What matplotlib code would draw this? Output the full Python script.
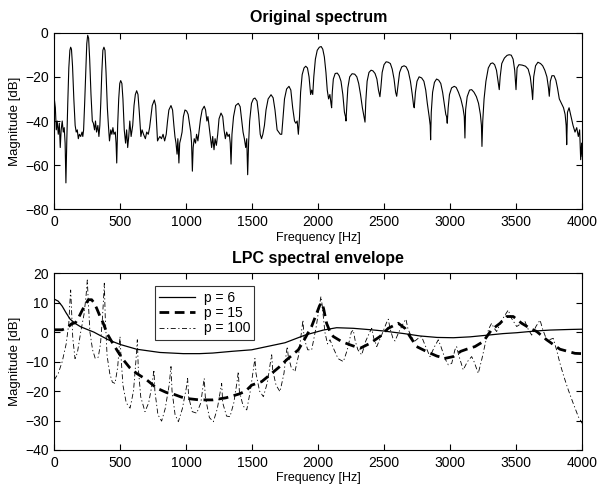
import matplotlib
matplotlib.use("Agg")
import matplotlib.pyplot as plt

plt.rcParams["font.family"] = ["Liberation Sans", "DejaVu Sans"]

# original spectrum: (frequency [Hz], magnitude [dB])
spectrum = [
    (0, -30), (8, -34), (15, -44), (22, -40), (30, -46), (38, -41), (45, -52), (52, -44),
    (60, -40), (68, -45), (75, -43), (82, -50), (88, -68), (95, -48), (102, -32),
    (110, -16), (118, -8), (124, -6.6), (130, -7.5), (138, -15), (148, -30), (158, -42),
    (166, -45), (174, -44), (182, -48), (190, -46), (200, -47), (210, -45), (216, -47),
    (222, -44), (230, -32), (238, -18), (246, -5), (253, -1.2), (260, -2.5), (268, -12),
    (278, -28), (288, -40), (296, -41), (305, -44), (312, -40), (320, -45), (330, -42),
    (338, -47), (345, -42), (352, -32), (360, -18), (368, -8), (376, -6.6), (384, -8),
    (392, -18), (402, -34), (410, -42), (418, -49), (428, -44), (436, -46), (444, -43),
    (452, -46), (462, -45), (468, -50), (473, -59), (480, -42), (488, -30), (496, -23),
    (503, -21.7), (512, -23), (520, -30), (530, -44), (540, -50), (548, -44), (556, -52),
    (564, -47), (572, -40), (582, -47), (594, -42), (604, -33), (614, -28), (624, -26.3),
    (634, -28), (644, -36), (656, -47), (665, -44), (676, -46), (690, -48), (700, -45),
    (712, -46), (722, -43), (732, -38), (742, -33), (758, -30.5), (768, -33), (776, -42),
    (782, -49), (790, -48), (800, -47), (812, -48), (824, -46), (836, -49), (848, -46),
    (858, -40), (868, -35), (884, -33), (896, -35), (906, -42), (914, -47), (922, -50),
    (930, -55), (936, -48), (944, -59), (950, -50), (958, -48), (968, -45), (978, -38),
    (990, -35), (1003, -35.5), (1014, -37), (1024, -41), (1034, -45), (1040, -50),
    (1046, -62.7), (1052, -52), (1060, -48), (1070, -50), (1078, -46), (1088, -49),
    (1098, -44), (1108, -39), (1120, -35), (1136, -33.3), (1146, -35), (1156, -40),
    (1164, -38), (1174, -43), (1184, -48), (1192, -52), (1200, -47), (1210, -53),
    (1218, -48), (1228, -51), (1238, -46), (1248, -39), (1263, -36.4), (1276, -38),
    (1286, -44), (1296, -48), (1306, -45), (1316, -47), (1326, -46), (1333, -50),
    (1339, -59.5), (1346, -46), (1358, -38), (1374, -33), (1394, -32), (1408, -33.5),
    (1420, -40), (1430, -45), (1440, -48), (1450, -52), (1458, -48), (1465, -64.3),
    (1472, -50), (1480, -40), (1494, -32), (1508, -30), (1520, -29.6), (1536, -31),
    (1548, -37), (1560, -46), (1570, -48), (1580, -46), (1592, -42), (1604, -35),
    (1620, -30), (1642, -28.1), (1658, -29.5), (1672, -35), (1688, -44), (1700, -45),
    (1712, -46), (1723, -46), (1732, -39), (1744, -30), (1760, -25.5), (1778, -24.3),
    (1792, -26), (1806, -34), (1820, -40), (1830, -41), (1840, -40), (1849, -46),
    (1858, -38), (1866, -27), (1878, -19), (1892, -16), (1905, -15.2), (1918, -16),
    (1930, -20), (1942, -28), (1950, -26), (1958, -28), (1966, -20), (1978, -12),
    (1992, -8), (2008, -6.6), (2022, -6.3), (2034, -7.5), (2046, -11), (2058, -18),
    (2068, -26), (2078, -30), (2088, -28), (2096, -32), (2101, -34), (2106, -27),
    (2114, -21), (2128, -18.5), (2144, -18.3), (2158, -19.5), (2172, -22), (2186, -28),
    (2198, -36), (2206, -38), (2210, -40), (2216, -33), (2224, -25), (2238, -20),
    (2256, -18.6), (2276, -18.8), (2292, -20), (2306, -23), (2320, -28), (2334, -34),
    (2346, -38), (2354, -40.5), (2360, -31), (2370, -22), (2384, -18), (2400, -17),
    (2414, -17.3), (2430, -18.5), (2444, -21), (2456, -26), (2467, -29), (2474, -25),
    (2484, -18), (2498, -14.5), (2514, -13.2), (2530, -13.4), (2546, -14), (2560, -16.5),
    (2574, -21), (2586, -27), (2594, -28.8), (2604, -24), (2616, -18), (2632, -15.5),
    (2650, -15), (2666, -15.5), (2682, -17.5), (2698, -22), (2712, -28), (2722, -33),
    (2727, -34), (2736, -27), (2748, -22), (2764, -20), (2783, -20.5), (2800, -22),
    (2814, -26), (2826, -32), (2840, -38), (2848, -42), (2851, -48.5), (2856, -36),
    (2866, -27), (2880, -22.5), (2896, -21), (2912, -21.5), (2928, -23), (2942, -27),
    (2954, -32), (2966, -37), (2972, -38), (2977, -41), (2984, -34), (2994, -28),
    (3010, -25), (3030, -24.3), (3045, -24.8), (3062, -27), (3080, -30), (3096, -34),
    (3106, -38), (3111, -47.7), (3116, -35), (3128, -29), (3146, -26), (3162, -25.8),
    (3180, -27), (3198, -29), (3214, -32), (3228, -37), (3236, -42), (3240, -51.5),
    (3246, -40), (3256, -30), (3270, -22), (3288, -16), (3306, -14), (3321, -13.7),
    (3336, -14.5), (3350, -17), (3362, -22), (3371, -25.8), (3378, -20), (3390, -14),
    (3410, -11.5), (3430, -10.3), (3446, -10), (3462, -10.2), (3476, -12), (3488, -17),
    (3498, -25.8), (3506, -16), (3520, -14.5), (3545, -14.7), (3570, -15.2), (3590, -16.5),
    (3606, -20), (3618, -26), (3624, -30.3), (3632, -20), (3646, -15), (3664, -13.4),
    (3684, -14), (3700, -15), (3716, -17), (3732, -20), (3744, -25), (3750, -28.8),
    (3758, -22), (3770, -19.5), (3786, -19.5), (3800, -21.5), (3812, -25), (3826, -30),
    (3842, -32), (3858, -34), (3870, -37), (3878, -42), (3882, -50.7), (3888, -36),
    (3900, -34), (3915, -38), (3930, -42), (3945, -45), (3958, -43), (3970, -47),
    (3980, -44), (3988, -57.5), (3995, -50), (4000, -56),
]

# LPC envelope, p = 6
lpc6 = [
    (0, 11.2), (30, 10.5), (60, 8.8), (90, 6.5), (120, 4.4), (160, 2.9), (200, 1.8),
    (250, 0.9), (300, 0), (350, -1.2), (409, -2.6), (500, -4.2), (624, -5.8), (800, -6.9),
    (977, -7.3), (1100, -7.3), (1200, -7.1), (1350, -6.5), (1495, -6.0), (1600, -5),
    (1748, -3.6), (1900, -1), (2038, 0.7), (2139, 1.5), (2265, 1.3), (2400, 0.8),
    (2492, 0.4), (2650, -0.5), (2771, -1.3), (2900, -1.8), (3023, -1.9), (3150, -1.6),
    (3288, -1), (3400, -0.5), (3503, -0.2), (3650, 0.4), (3755, 0.7), (3900, 0.9),
    (4000, 1.0),
]

# LPC envelope, p = 15
lpc15 = [
    (0, 0.8), (60, 0.8), (100, 1.5), (130, 2.8), (160, 3.2), (185, 5), (207, 7), (230, 9),
    (258, 11), (283, 11), (300, 10), (321, 8.1), (345, 5.5), (371, 3), (400, -0.5),
    (435, -3.2), (480, -6.5), (523, -9.4), (570, -12), (624, -14), (700, -16.2),
    (776, -19), (850, -20.5), (900, -21), (960, -22), (1000, -22.5), (1100, -23),
    (1200, -23), (1300, -22.3), (1400, -21), (1450, -20), (1495, -18), (1571, -16.8),
    (1647, -14), (1700, -12), (1760, -9.4), (1849, -6), (1900, -2.1), (1950, 2),
    (1988, 6.4), (2010, 9), (2026, 10), (2040, 8), (2063, 3), (2090, 0), (2114, -1.5),
    (2177, -3.2), (2240, -4.3), (2316, -5.5), (2392, -3.8), (2467, -1.5), (2530, 1.3),
    (2606, 3), (2657, 1.3), (2695, -1.5), (2745, -4.9), (2821, -6.6), (2897, -8.1),
    (2960, -8.9), (3023, -8.3), (3080, -6.5), (3124, -5.8), (3187, -4.9), (3250, -3.2),
    (3313, 0.8), (3377, 3), (3427, 5.3), (3477, 5.3), (3541, 3), (3604, 1.3),
    (3655, 0.2), (3730, -2.6), (3831, -5.8), (3945, -7.2), (4000, -7.3),
]

# LPC envelope, p = 100
lpc100 = [
    (0, -16.2), (30, -14), (60, -10), (90, -4), (110, 3), (118, 10), (124, 14.3),
    (130, 8), (140, -2), (157, -9), (175, -7), (200, 0), (225, 6), (240, 12),
    (250, 17.7), (258, 10), (270, 0), (290, -6), (310, -8.9), (333, -8.5), (350, -4),
    (365, 5), (374, 12), (379, 16.6), (386, 5), (400, -8), (420, -14), (440, -17),
    (460, -17.4), (480, -12), (492, -5), (498, -1.5), (505, -8), (520, -18), (545, -24),
    (574, -25.8), (600, -20), (618, -10), (629, -2.6), (636, -12), (655, -22),
    (687, -27), (715, -24), (740, -18), (755, -12.8), (762, -20), (785, -28),
    (813, -30.2), (840, -26), (870, -18), (884, -11.7), (892, -20), (915, -28),
    (940, -30.4), (970, -26), (1000, -19), (1010, -15.7), (1018, -22), (1045, -27),
    (1079, -27.5), (1110, -24), (1128, -18), (1136, -15.7), (1144, -22), (1175, -29),
    (1205, -30.4), (1235, -26), (1258, -20), (1268, -17.4), (1276, -24), (1305, -28.5),
    (1331, -28.7), (1360, -24), (1384, -17), (1394, -13.4), (1402, -20), (1430, -25),
    (1458, -26.4), (1485, -20), (1510, -12), (1520, -8.9), (1528, -14), (1555, -20),
    (1584, -21.9), (1615, -17), (1638, -10), (1647, -7.7), (1655, -13), (1680, -18),
    (1710, -20.2), (1740, -14), (1758, -7), (1765, -4.9), (1772, -8), (1795, -12),
    (1823, -13.4), (1850, -8), (1872, 0), (1884, 4.1), (1892, -2), (1920, -6),
    (1950, -6), (1985, 2), (2005, 8), (2020, 12.1), (2030, 9), (2050, 0), (2070, -4),
    (2089, -2.6), (2110, -5), (2150, -9), (2190, -10), (2220, -6), (2250, 0),
    (2265, 0.7), (2280, -3), (2300, -6), (2329, -7.7), (2360, -3), (2390, 0),
    (2405, 1.3), (2420, -2), (2443, -4.9), (2480, -1), (2515, 3), (2530, 4.4),
    (2545, 1), (2565, -2), (2581, -3), (2610, 0), (2650, 3.5), (2664, 4.4), (2680, 1),
    (2705, -1.5), (2732, -3), (2760, -2), (2783, -1.5), (2805, -4), (2846, -8.3),
    (2880, -5), (2909, -2.6), (2930, -5), (2960, -9), (2985, -11.1), (3011, -10.6),
    (3035, -6), (3048, -4.9), (3065, -8), (3098, -12.8), (3130, -10), (3162, -8.3),
    (3180, -10), (3212, -14), (3240, -9), (3263, -4.3), (3290, 1), (3313, 3),
    (3330, 1.5), (3351, 0.2), (3390, 4), (3425, 6.5), (3439, 7.5), (3460, 5),
    (3503, 1.9), (3540, 3), (3566, 3.6), (3590, 1), (3617, -1), (3650, 2), (3680, 4.1),
    (3700, 1), (3730, -2.6), (3755, -2.5), (3780, -2.1), (3805, -6), (3831, -10.6),
    (3860, -15), (3894, -19.6), (3930, -24), (3970, -28.7), (4000, -31),
]

xticks = [0, 500, 1000, 1500, 2000, 2500, 3000, 3500, 4000]


def style_axes(ax):
    ax.set_xlim(0, 4000)
    ax.set_xticks(xticks)
    ax.tick_params(direction="in", top=True, right=True, labelsize=10, length=4, pad=4)
    ax.set_xlabel("Frequency [Hz]", fontsize=9, labelpad=2)
    ax.set_ylabel("Magnitude [dB]", fontsize=9.5, labelpad=3)


fig = plt.figure(figsize=(5.98, 4.87), dpi=100)
ax1 = fig.add_axes([0.0908, 0.570, 0.8829, 0.363])
ax2 = fig.add_axes([0.0908, 0.076, 0.8829, 0.363])

f, db = zip(*spectrum)
ax1.plot(f, db, color="black", lw=0.8)
ax1.set_ylim(-80, 0)
ax1.set_yticks([-80, -60, -40, -20, 0])
ax1.set_title("Original spectrum", fontsize=11.5, fontweight="bold", pad=8)
style_axes(ax1)

f, db = zip(*lpc6)
ax2.plot(f, db, color="black", lw=0.9, label="p = 6")
f, db = zip(*lpc15)
ax2.plot(f, db, color="black", lw=2.0, dashes=(3.5, 2.0), label="p = 15")
f, db = zip(*lpc100)
ax2.plot(f, db, color="black", lw=0.6, dashes=(6, 3, 1.5, 3), label="p = 100")
ax2.set_ylim(-40, 20)
ax2.set_yticks([-40, -30, -20, -10, 0, 10, 20])
ax2.set_title("LPC spectral envelope", fontsize=11.5, fontweight="bold", pad=7)
style_axes(ax2)

leg = ax2.legend(loc="upper left", bbox_to_anchor=(0.191, 0.925), fontsize=10,
                 frameon=True, fancybox=False, handlelength=2.6, borderpad=0.3,
                 labelspacing=0.1, handletextpad=0.6, borderaxespad=0.0)
leg.get_frame().set_edgecolor("black")
leg.get_frame().set_linewidth(0.8)

fig.savefig("out.png", dpi=100)
